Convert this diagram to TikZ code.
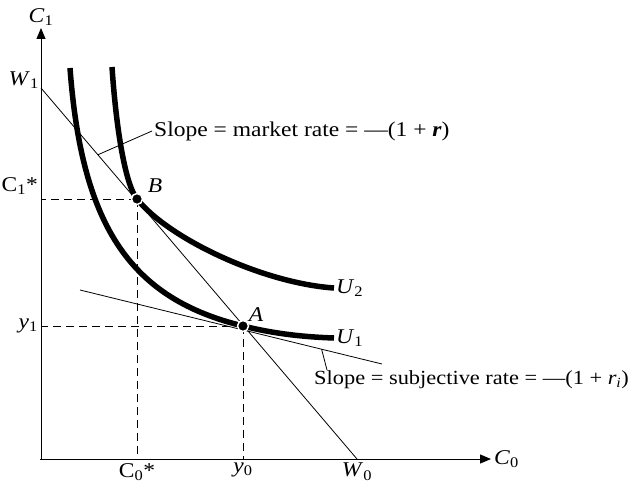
\documentclass[tikz,border=0pt]{standalone}
\usepackage{fontspec}
\setmainfont{Liberation Serif}[FakeStretch=1.12]
\usepackage{tikz}
\usetikzlibrary{positioning,arrows.meta,calc}

\begin{document}
\begin{tikzpicture}[
    x=1pt, y=-1pt,
    font=\fontsize{21}{24}\selectfont,
    >={Triangle[length=11pt,width=9pt]},
    axis/.style={->, line width=1pt},
    budget/.style={line width=0.8pt},
    guide/.style={dash pattern=on 8pt off 5pt, line width=0.8pt},
    indiff/.style={line width=5.5pt, line cap=butt},
    dot/.style={fill=black, draw=white, line width=1.5pt},
    lbl/.style={inner sep=2pt},
    leader/.style={line width=0.8pt}
]
\useasboundingbox (0,0) rectangle (636,487);

% Axes
\coordinate (O) at (41,459);
\coordinate (ytip) at (41,28);
\coordinate (xtip) at (491,459);
\draw[axis] (41,460) -- (ytip);
\draw[axis] (40,459) -- (xtip);
\node[lbl, above=0pt of ytip] (c1) {\textit{C}\textsubscript{1}};
\node[lbl, right=1pt of xtip] (c0) {\textit{C}\textsubscript{0}};

% Budget line W1 -- W0
\coordinate (w1) at (41,88);
\coordinate (w0) at (357,459);
\coordinate (A) at (243,326);
\coordinate (B) at (137,199);
\draw[budget] (w1) -- (w0);
\node[lbl, anchor=east] (w1lab) at (41,80) {\textit{W}\textsubscript{1}};
\node[lbl, below=2pt of w0] (w0lab) {\textit{W}\textsubscript{0}};

% Dashed guides to the axes
\draw[guide] (B) -- (B -| O);
\draw[guide] (B) -- (B |- O);
\draw[guide] (A) -- (A -| O);
\draw[guide] (A) -- (A |- O);
\node[lbl, anchor=east] (c1s) at (40,186) {C\textsubscript{1}*};
\node[lbl, anchor=east] (y1) at (40,326) {\textit{y}\textsubscript{1}};
\node[lbl, below=2pt of B |- O] (c0s) {C\textsubscript{0}*};
\node[lbl, below=2pt of A |- O] (y0) {\textit{y}\textsubscript{0}};

% Tangent at A (subjective rate)
\coordinate (t1) at (80,290);
\coordinate (t2) at (382,364);
\draw[budget] (t1) -- (t2);

% Indifference curves
\coordinate (u1s) at (70,68);
\coordinate (u1e) at (334,338);
\coordinate (u2s) at (112,67);
\coordinate (u2e) at (334,288);
\draw[indiff] (u1s) .. controls (82,230) and (133,299) .. (A)
    .. controls (275,334) and (305,337) .. (u1e);
\draw[indiff] (u2s) .. controls (117,140) and (127,187) .. (B)
    .. controls (168,238) and (262,283) .. (u2e);
\node[lbl, anchor=west] (u2) at (u2e) {\textit{U}\textsubscript{2}};
\node[lbl, anchor=west] (u1) at (u1e) {\textit{U}\textsubscript{1}};

% Optimum points
\fill[dot] (B) circle (5.5);
\fill[dot] (A) circle (5.5);
\node[lbl] (blab) at (155,186) {\textit{B}};
\node[lbl] (alab) at (256,315) {\textit{A}};

% Slope callouts
\coordinate (mk) at ($(w1)!0.18!(w0)$);
\node[lbl, anchor=west] (mktext) at (152,131)
    {Slope = market rate = ---(1 + \textit{\textbf{r}})};
\draw[leader] (mk) -- (mktext.west);
\coordinate (sb) at ($(t1)!0.80!(t2)$);
\node[lbl, inner sep=0pt, anchor=north west, font=\fontsize{20}{24}\selectfont]
    (sbtext) at (314,370)
    {Slope = subjective rate = ---(1 + \textit{r\textsubscript{i}})};
\draw[leader] (sb) -- ([xshift=13pt]sbtext.north west);
\end{tikzpicture}
\end{document}
